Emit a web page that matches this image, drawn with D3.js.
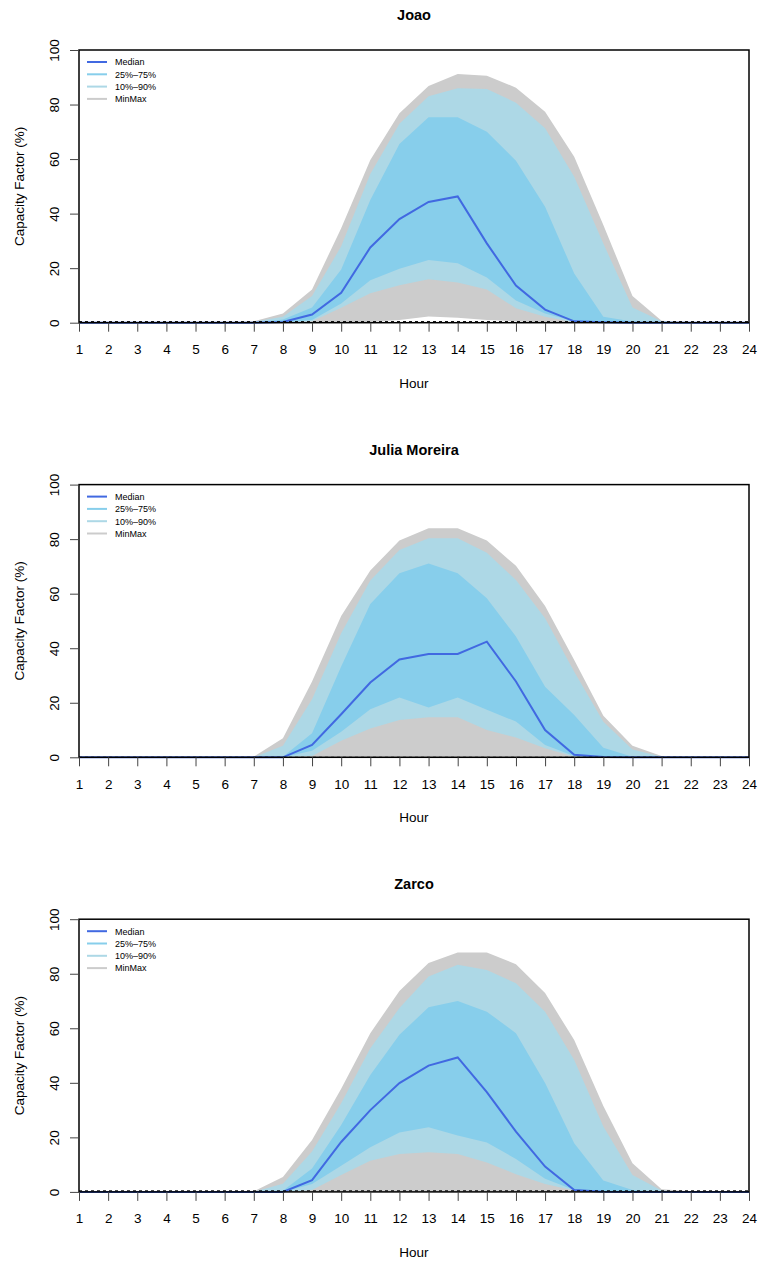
<!DOCTYPE html>
<html>
<head>
<meta charset="utf-8">
<script src="https://cdn.jsdelivr.net/npm/d3@7"></script>
<style>
  body { margin: 0; background: #fff; }
  svg text { font-family: "Liberation Sans", Arial, sans-serif; fill: #000; }
</style>
</head>
<body>
<svg id="chart" width="758" height="1263"></svg>
<script>
// === data ===
const hours = d3.range(1, 25);
const stations = ["Joao", "Julia Moreira", "Zarco"];

// one row per station, 24 hourly values (%)
const maxValues = [
  [0,0,0,0,0,0,0.5,3.4,12.2,34.6,59.7,76.8,86.8,91.2,90.6,86.2,77.4,60.9,35.8,9.8,0.7,0.3,0,0],
  [0,0,0,0,0,0,0.2,7,27.8,51.8,68.5,79.5,84,84,79.5,70.2,55.5,35.7,15.2,4.2,0.5,0,0,0],
  [0,0,0,0,0,0,0.2,5.5,19,37.8,58.2,73.7,83.9,87.8,87.8,83.5,72.9,55.7,31.5,10.5,1,0.2,0,0]
];
const p90Values = [
  [0,0,0,0,0,0,0.3,2.2,9.8,28,54.5,73,83,86,85.7,80.7,71.3,53.5,29,5.6,0.5,0,0,0],
  [0,0,0,0,0,0,0,4.2,21.3,45.5,64.8,76,80.3,80.3,75,65,51,31.4,13,2.9,0.2,0,0,0],
  [0,0,0,0,0,0,0,3,14.8,32.5,52.7,67.4,79,83.3,81.4,76.5,66.1,48.4,24,6.2,0.5,0,0,0]
];
const p75Values = [
  [0,0,0,0,0,0,0,1.2,5.6,19.5,45,65.5,75.3,75.3,70,59.4,42.5,18,2.2,0.4,0.2,0,0,0],
  [0,0,0,0,0,0,0,0.2,8.8,33.3,56.2,67.5,71.1,67.5,58.3,44.3,25.9,15.5,3.5,0.2,0,0,0,0],
  [0,0,0,0,0,0,0,0.4,8.6,24.5,42.9,57.6,67.7,70,66.1,58.2,39.9,17.8,4.2,0.7,0,0,0,0]
];
const medianValues = [
  [0,0,0,0,0,0,0,0.3,3,11,27.6,38,44.3,46.3,29.1,13.6,4.8,0.5,0.2,0,0,0,0,0],
  [0,0,0,0,0,0,0,0,4.5,15.8,27.4,35.9,37.9,37.9,42.4,27.8,10,0.9,0.1,0,0,0,0,0],
  [0,0,0,0,0,0,0,0,4.3,18.3,30,39.9,46.3,49.3,36.6,22.1,9.3,0.7,0.1,0,0,0,0,0]
];
const p25Values = [
  [0,0,0,0,0,0,0,0.1,1,7,15.6,19.8,23,21.8,16.6,8.1,3.4,0.5,0,0,0,0,0,0],
  [0,0,0,0,0,0,0,0,2.4,9.4,17.6,21.9,18.3,21.9,17.4,13.1,4.5,0.5,0,0,0,0,0,0],
  [0,0,0,0,0,0,0,0,2.9,9.6,16.4,21.8,23.7,20.7,18.1,12.1,4.8,0.7,0,0,0,0,0,0]
];
const p10Values = [
  [0,0,0,0,0,0,0,0,0.5,5.5,10.8,13.7,15.9,14.7,12.2,5.3,2.2,0.2,0,0,0,0,0,0],
  [0,0,0,0,0,0,0,0,0.5,6.1,10.6,13.7,14.7,14.7,10,7.3,3.3,0.2,0,0,0,0,0,0],
  [0,0,0,0,0,0,0,0,0.7,6.2,11.4,13.9,14.5,13.9,10.8,6.5,2.9,0.5,0,0,0,0,0,0]
];
const minValues = [
  [0,0,0,0,0,0,0,0,0,0,0.3,1,2.3,1.8,1,0.5,0,0,0,0,0,0,0,0],
  [0,0,0,0,0,0,0,0,0,0,0,0,0,0,0,0,0,0,0,0,0,0,0,0],
  [0,0,0,0,0,0,0,0,0,0,0,0,0,0,0,0,0,0,0,0,0,0,0,0]
];
const dashLevels = [0.4, 0, 0.4];

const yTicks = [0, 20, 40, 60, 80, 100];
const legendLabels = ["Median", "25%\u201375%", "10%\u201390%", "MinMax"];
const legendColors = ["#4169e1", "#87ceeb", "#add8e6", "#cccccc"];

// === layout ===
const svg = d3.select("#chart");
const left = 79, right = 749, plotH = 272.7, firstTop = 50, panelStep = 434.6;

const x = d3.scaleLinear().domain([1, 24]).range([left, right]);

stations.forEach((name, i) => {
  const top = firstTop + i * panelStep;
  const bottom = top + plotH;
  const y = d3.scaleLinear().domain([0, 100]).range([bottom, top]);
  const g = svg.append("g");

  const band = (lo, hi) => d3.area()
    .x((d, k) => x(hours[k]))
    .y0((d, k) => y(lo[k]))
    .y1((d, k) => y(hi[k]))(hours);

  g.append("path").attr("d", band(minValues[i], maxValues[i])).attr("fill", "#cccccc");
  g.append("path").attr("d", band(p10Values[i], p90Values[i])).attr("fill", "#add8e6");
  g.append("path").attr("d", band(p25Values[i], p75Values[i])).attr("fill", "#87ceeb");

  g.append("path")
    .datum(medianValues[i])
    .attr("d", d3.line().x((d, k) => x(hours[k])).y(d => y(d)))
    .attr("fill", "none")
    .attr("stroke", "#4169e1")
    .attr("stroke-width", 2);

  g.append("line")
    .attr("x1", left).attr("x2", right)
    .attr("y1", y(dashLevels[i])).attr("y2", y(dashLevels[i]))
    .attr("stroke", "#000")
    .attr("stroke-width", 1)
    .attr("stroke-dasharray", "3,3");

  // box
  g.append("rect")
    .attr("x", left).attr("y", top)
    .attr("width", right - left).attr("height", plotH)
    .attr("fill", "none")
    .attr("stroke", "#000")
    .attr("stroke-width", 1.5);

  // x axis
  const xAxis = g.append("g")
    .attr("transform", `translate(0,${bottom})`)
    .call(d3.axisBottom(x).tickValues(hours).tickFormat(d3.format("d")).tickSize(9).tickSizeOuter(0));
  xAxis.select(".domain").remove();
  xAxis.selectAll("line").attr("stroke", "#444");
  xAxis.selectAll("text")
    .attr("y", 22)
    .attr("font-size", "13.5px")
    .attr("font-family", "Liberation Sans, Arial, sans-serif");

  // y axis
  const yAxis = g.append("g")
    .attr("transform", `translate(${left},0)`)
    .call(d3.axisLeft(y).tickValues(yTicks).tickSize(9).tickSizeOuter(0));
  yAxis.select(".domain").remove();
  yAxis.selectAll("line").attr("stroke", "#444");
  yAxis.selectAll("text")
    .attr("x", null).attr("dy", null)
    .attr("transform", "translate(-20,0) rotate(-90)")
    .attr("text-anchor", "middle")
    .attr("font-size", "13.5px")
    .attr("font-family", "Liberation Sans, Arial, sans-serif");

  // titles
  g.append("text")
    .attr("x", (left + right) / 2).attr("y", top - 30)
    .attr("text-anchor", "middle")
    .attr("font-size", "14.5px")
    .attr("font-weight", "bold")
    .text(name);

  g.append("text")
    .attr("x", (left + right) / 2).attr("y", bottom + 65)
    .attr("text-anchor", "middle")
    .attr("font-size", "13.5px")
    .text("Hour");

  g.append("text")
    .attr("transform", `translate(24,${(top + bottom) / 2}) rotate(-90)`)
    .attr("text-anchor", "middle")
    .attr("font-size", "13.5px")
    .text("Capacity Factor (%)");

  // === legend ===
  const legend = g.append("g")
    .attr("transform", `translate(${left + 8},${top + 12})`);

  const items = legend.selectAll(".legend-item")
    .data(legendLabels)
    .enter().append("g")
    .attr("class", "legend-item")
    .attr("transform", (d, k) => `translate(0,${k * 12.3})`);

  items.append("line")
    .attr("x1", 0).attr("x2", 20)
    .attr("stroke", (d, k) => legendColors[k])
    .attr("stroke-width", 2);

  items.append("text")
    .attr("x", 28)
    .attr("y", 3.3)
    .attr("font-size", "9px")
    .text(d => d);
});
</script>
</body>
</html>
